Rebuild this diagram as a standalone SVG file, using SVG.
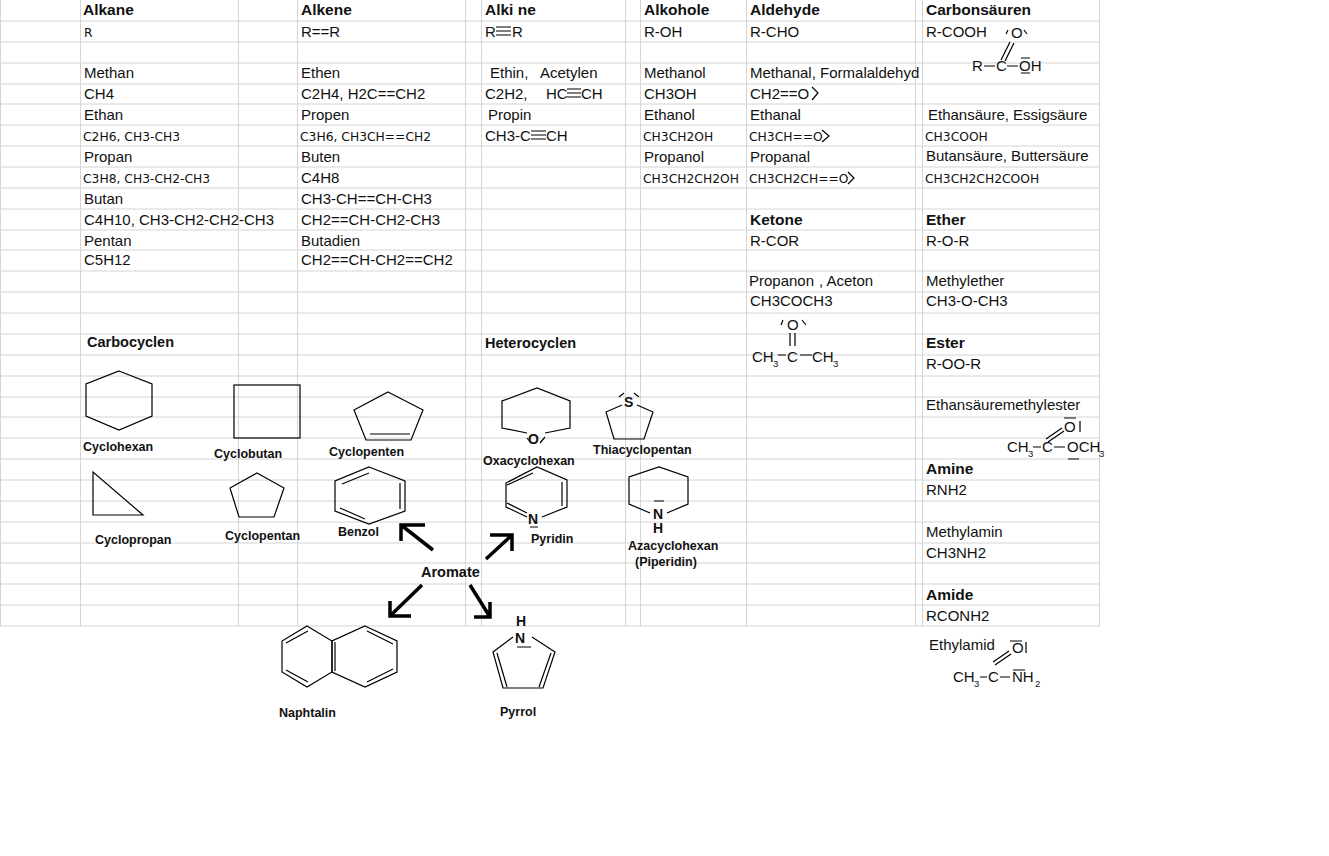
<svg xmlns="http://www.w3.org/2000/svg" width="1329" height="856" viewBox="0 0 1329 856">
<style>
.g{stroke:#d4d4d4;stroke-width:1}
text{font-family:"Liberation Sans",Arial,sans-serif;fill:#111}
.h{font-size:15.5px;font-weight:bold}
.t{font-size:15px}
.s{font-family:"DejaVu Sans",sans-serif;font-size:12.3px}
.b{font-size:12.5px;font-weight:bold}
.u{font-size:9.5px}
.m{fill:none;stroke:#000;stroke-width:1.2}
.a{fill:none;stroke:#000;stroke-width:3.5}
</style>
<rect width="1329" height="856" fill="#fff"/>
<g id="grid">
<path class="g" d="M0.5 0V626M80.5 0V626M238.5 0V626M297.5 0V626M465.5 0V626M481.5 0V626M625.5 0V626M640.5 0V626M746.5 0V626M915.5 0V626M922.5 0V626M1099.5 0V626"/>
<path class="g" d="M0 21H1100M0 42H1100M0 63H1100M0 84H1100M0 104H1100M0 125H1100M0 146H1100M0 167H1100M0 188H1100M0 209H1100M0 230H1100M0 250H1100M0 271H1100M0 292H1100M0 313H1100M0 334H1100M0 355H1100M0 376H1100M0 397H1100M0 417H1100M0 438H1100M0 459H1100M0 480H1100M0 501H1100M0 522H1100M0 543H1100M0 563H1100M0 584H1100M0 605H1100M0 626H1100"/>
</g>
<g id="alkane">
<text class="h" x="83" y="15">Alkane</text>
<text class="s" x="84" y="37">R</text>
<text class="t" x="84" y="78">Methan</text>
<text class="t" x="84" y="99">CH4</text>
<text class="t" x="84" y="120">Ethan</text>
<text class="s" x="83" y="141">C2H6, CH3-CH3</text>
<text class="t" x="84" y="162">Propan</text>
<text class="s" x="83" y="183">C3H8, CH3-CH2-CH3</text>
<text class="t" x="84" y="204">Butan</text>
<text class="t" x="84" y="225">C4H10, CH3-CH2-CH2-CH3</text>
<text class="t" x="84" y="246">Pentan</text>
<text class="t" x="84" y="265">C5H12</text>
</g>
<g id="alkene">
<text class="h" x="301" y="15">Alkene</text>
<text class="t" x="301" y="37">R==R</text>
<text class="t" x="301" y="78">Ethen</text>
<text class="t" x="301" y="99">C2H4, H2C==CH2</text>
<text class="t" x="301" y="120">Propen</text>
<text class="s" x="300" y="141">C3H6, CH3CH==CH2</text>
<text class="t" x="301" y="162">Buten</text>
<text class="t" x="301" y="183">C4H8</text>
<text class="t" x="301" y="204">CH3-CH==CH-CH3</text>
<text class="t" x="301" y="225">CH2==CH-CH2-CH3</text>
<text class="t" x="301" y="246">Butadien</text>
<text class="t" x="301" y="265">CH2==CH-CH2==CH2</text>
</g>
<g id="alkine">
<text class="h" x="485" y="15">Alki ne</text>
<text class="t" x="485" y="37">R</text><path class="m" d="M496 27H511M496 31H511M496 35H511"/><text class="t" x="512" y="37">R</text>
<text class="t" x="490" y="78">Ethin,</text><text class="t" x="540" y="78">Acetylen</text>
<text class="t" x="485" y="99">C2H2,</text>
<text class="t" x="546" y="99">HC</text><path class="m" d="M567 89H581M567 93H581M567 97H581"/><text class="t" x="581" y="99">CH</text>
<text class="t" x="488" y="120">Propin</text>
<text class="t" x="485" y="141">CH3-C</text><path class="m" d="M531 131H546M531 135H546M531 139H546"/><text class="t" x="546" y="141">CH</text>
</g>
<g id="alkohole">
<text class="h" x="644" y="15">Alkohole</text>
<text class="t" x="644" y="37">R-OH</text>
<text class="t" x="644" y="78">Methanol</text>
<text class="t" x="644" y="99">CH3OH</text>
<text class="t" x="644" y="120">Ethanol</text>
<text class="s" x="643" y="141">CH3CH2OH</text>
<text class="t" x="644" y="162">Propanol</text>
<text class="s" x="643" y="183">CH3CH2CH2OH</text>
</g>
<g id="aldehyde">
<text class="h" x="750" y="15">Aldehyde</text>
<text class="t" x="750" y="37">R-CHO</text>
<text class="t" x="750" y="78">Methanal, Formalaldehyd</text>
<text class="t" x="750" y="99">CH2==O</text><path class="m" d="M812 87L818 93L812 100"/>
<text class="t" x="750" y="120">Ethanal</text>
<text class="s" x="749" y="141">CH3CH==O</text><path class="m" d="M822 130L829 136L822 142"/>
<text class="t" x="750" y="162">Propanal</text>
<text class="s" x="749" y="183">CH3CH2CH==O</text><path class="m" d="M848 172L854 178L848 184"/>
</g>
<g id="carbonsaeuren">
<text class="h" x="926" y="15">Carbonsäuren</text>
<text class="t" x="926" y="37">R-COOH</text>
<text class="t" x="1011" y="38">O</text><path class="m" d="M1006 34L1008 30M1024 30L1027 34M1010 42L1001 60M1014 43L1005 61"/>
<text class="t" x="972" y="71">R</text><path class="m" d="M984 66H995M1007 66H1018M1021 58H1030M1021 73H1030"/>
<text class="t" x="996" y="71">C</text><text class="t" x="1019" y="71">OH</text>
<text class="t" x="928" y="120">Ethansäure, Essigsäure</text>
<text class="s" x="925" y="141">CH3COOH</text>
<text class="t" x="926" y="161">Butansäure, Buttersäure</text>
<text class="s" x="925" y="183">CH3CH2CH2COOH</text>
</g>
<g id="ketone">
<text class="h" x="750" y="225">Ketone</text>
<text class="t" x="750" y="246">R-COR</text>
<text class="t" x="749" y="286">Propanon</text><text class="t" x="819" y="286">, Aceton</text>
<text class="t" x="750" y="306">CH3COCH3</text>
<text class="t" x="787" y="330">O</text><path class="m" d="M781 325L783 320M802 320L806 325M790 333V346M795 333V346M778 355H786M800 355H812"/>
<text class="t" x="752" y="362">CH</text><text class="u" x="773" y="367">3</text>
<text class="t" x="787" y="362">C</text>
<text class="t" x="812" y="362">CH</text><text class="u" x="833" y="367">3</text>
</g>
<g id="ether">
<text class="h" x="926" y="225">Ether</text>
<text class="t" x="926" y="246">R-O-R</text>
<text class="t" x="926" y="286">Methylether</text>
<text class="t" x="926" y="306">CH3-O-CH3</text>
</g>
<g id="ester">
<text class="h" x="926" y="348">Ester</text>
<text class="t" x="926" y="369">R-OO-R</text>
<text class="t" x="926" y="410">Ethansäuremethylester</text>
<text class="t" x="1064" y="432">O</text><path class="m" d="M1064 418H1076M1080 421V432M1062 428L1046 439M1064 431L1048 442M1033 447H1041M1054 447H1065M1068 459H1079"/>
<text class="t" x="1007" y="452">CH</text><text class="u" x="1028" y="457">3</text>
<text class="t" x="1042" y="452">C</text><text class="t" x="1067" y="452">OCH</text><text class="u" x="1099" y="457">3</text>
</g>
<g id="amine">
<text class="h" x="926" y="474">Amine</text>
<text class="t" x="926" y="495">RNH2</text>
<text class="t" x="926" y="537">Methylamin</text>
<text class="t" x="926" y="558">CH3NH2</text>
</g>
<g id="amide">
<text class="h" x="926" y="600">Amide</text>
<text class="t" x="926" y="621">RCONH2</text>
<text class="t" x="929" y="650">Ethylamid</text>
<text class="t" x="1012" y="653">O</text><path class="m" d="M1010 641H1022M1026 642V653M1009 651L993 662M1011 654L995 665M980 677H987M1000 677H1010M1013 670H1025"/>
<text class="t" x="953" y="682">CH</text><text class="u" x="974" y="687">3</text>
<text class="t" x="988" y="682">C</text><text class="t" x="1012" y="682">NH</text><text class="u" x="1035" y="687">2</text>
</g>
<g id="carbocyclen">
<text class="h" x="87" y="347" style="font-size:14.5px">Carbocyclen</text>
<polygon class="m" points="119,371 152,384 152,416 119,430 86,416 86,384"/>
<text class="b" x="83" y="451">Cyclohexan</text>
<rect class="m" x="234" y="385" width="66" height="53"/>
<text class="b" x="214" y="458">Cyclobutan</text>
<polygon class="m" points="388,392 423,410 411,440 366,440 354,410"/><path class="m" d="M370 434H410"/>
<text class="b" x="329" y="456">Cyclopenten</text>
<polygon class="m" points="93,472 93,515 143,515"/>
<text class="b" x="95" y="544">Cyclopropan</text>
<polygon class="m" points="257,473 284,488 274,517 239,517 230,488"/>
<text class="b" x="225" y="540">Cyclopentan</text>
<polygon class="m" points="369,467 405,481 405,511 369,524 335,511 335,481"/><path class="m" d="M342 484L369 473M400 483V509M340 508L365 519"/>
<text class="b" x="338" y="536">Benzol</text>
</g>
<g id="heterocyclen">
<text class="h" x="485" y="348" style="font-size:14.5px">Heterocyclen</text>
<path class="m" d="M527 433L502 428V401L537 388L570 401V428L545 433M527 438L531 443M545 437L540 443"/>
<text class="b" x="528" y="444" style="font-size:14px">O</text>
<text class="b" x="483" y="465">Oxacyclohexan</text>
<path class="m" d="M622 405L606 412L614 439H644L653 412L637 405M619 397L624 393M634 393L639 397"/>
<text class="b" x="624" y="407" style="font-size:14px">S</text>
<text class="b" x="593" y="454">Thiacyclopentan</text>
<path class="m" d="M527 517L506 507V483L537 467L567 480V507L542 517M507 485L533 473M562 482V506M507 503L527 513M530 527H538"/>
<text class="b" x="528" y="524" style="font-size:14px">N</text>
<text class="b" x="531" y="543">Pyridin</text>
<path class="m" d="M650 513L629 504V477L659 467L688 477V504L667 513M654 501H664"/>
<text class="b" x="653" y="519" style="font-size:14px">N</text>
<text class="b" x="653" y="533" style="font-size:14px">H</text>
<text class="b" x="628" y="550">Azacyclohexan</text>
<text class="b" x="635" y="566">(Piperidin)</text>
</g>
<g id="aromate">
<text class="h" x="421" y="577" style="font-size:14.5px">Aromate</text>
<polygon class="m" points="307,626 332,641 332,672 307,687 282,672 282,641"/>
<polygon class="m" points="365,626 397,641 397,672 365,687 332,672 332,641"/>
<path class="m" d="M335 642V671M286 643L308 631M286 670L308 682M367 631L393 644M367 682L393 669"/>
<text class="b" x="279" y="717">Naphtalin</text>
<path class="m" d="M513 637L493 652L503 688H543L555 652L532 637M497 653L507 687M551 653L539 687M517 647H531"/>
<text class="b" x="516" y="626" style="font-size:14px">H</text>
<text class="b" x="515" y="643" style="font-size:14px">N</text>
<text class="b" x="500" y="716">Pyrrol</text>
</g>
<g id="connectors">
<path class="a" d="M433 550L401 525M401 541V525H425"/>
<path class="a" d="M486 559L512 535M490 535H512V551"/>
<path class="a" d="M422 585L390 616M390 601V616H411"/>
<path class="a" d="M470 585L490 617M474 617H490V602"/>
</g>
</svg>
